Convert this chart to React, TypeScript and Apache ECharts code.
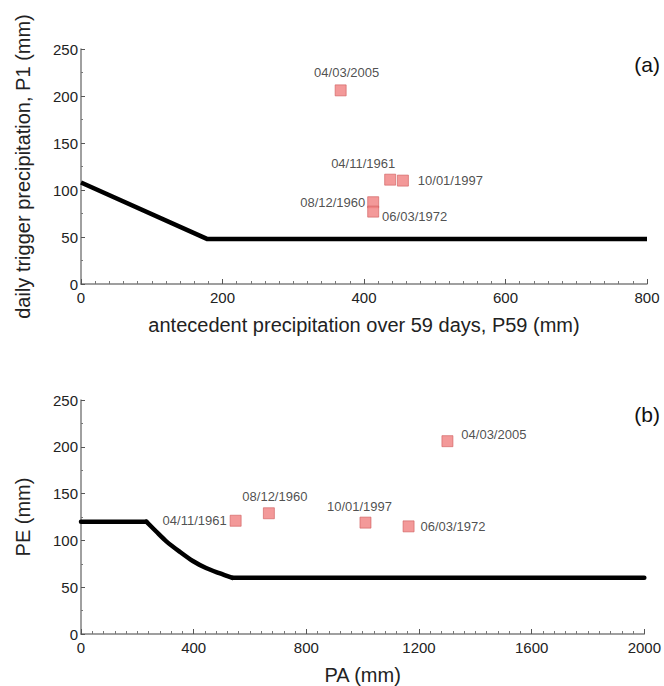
import React, { useEffect, useRef } from "react";
import * as echarts from "echarts";

// Panel (a)
const thresholdA: [number, number][] = [
  [0, 108],
  [178, 48],
  [800, 48],
];
const eventLabelsA = ["04/03/2005", "04/11/1961", "10/01/1997", "08/12/1960", "06/03/1972"];
const eventP59 = [367, 437, 455, 413, 413];
const eventP1 = [206, 111, 110, 87, 77];

// Panel (b)
const thresholdB: [number, number][] = [
  [0, 120],
  [232, 120],
  [267, 109.5],
  [303, 99],
  [350, 88],
  [397, 78],
  [444, 70.5],
  [491, 65],
  [538, 60],
  [2000, 60],
];
const eventLabelsB = ["04/11/1961", "08/12/1960", "10/01/1997", "06/03/1972", "04/03/2005"];
const eventPA = [549, 667, 1010, 1163, 1301];
const eventPE = [121, 129, 119, 115, 206];

const panelTags = ["(a)", "(b)"];

const FONT = "'Liberation Sans', Arial, sans-serif";

export default function App() {
  const ref = useRef<HTMLDivElement>(null);

  useEffect(() => {
    if (!ref.current) return;
    const chart = echarts.init(ref.current, null, { renderer: "svg" });

    const labelPosA: any[] = [
      { position: "top", distance: 5, offset: [6, 0] },
      { position: "top", distance: 4, offset: [-27, 0] },
      { position: "right", distance: 9, offset: [0, 0] },
      { position: "left", distance: 2, offset: [0, 0] },
      { position: "right", distance: 3, offset: [0, 5] },
    ];
    const labelPosB: any[] = [
      { position: "left", distance: 3, offset: [0, 0] },
      { position: "top", distance: 4, offset: [6, 0] },
      { position: "top", distance: 4, offset: [-6, 0] },
      { position: "right", distance: 6, offset: [0, 0] },
      { position: "right", distance: 8, offset: [0, -7] },
    ];

    const axisLine = { show: true, lineStyle: { color: "#808080", width: 1.5 } };
    const axisLabel = { color: "#222", fontSize: 15, fontFamily: FONT };
    const nameStyle = { color: "#222", fontSize: 20, fontFamily: FONT };

    const mkX = (gridIndex: number, max: number, interval: number, name: string, gap: number) => ({
      type: "value",
      gridIndex,
      min: 0,
      max,
      interval,
      name,
      nameLocation: "middle",
      nameGap: gap,
      nameTextStyle: nameStyle,
      axisLine,
      axisTick: { show: true, inside: true, length: 5, lineStyle: { color: "#555", width: 1 } },
      minorTick: { show: true, splitNumber: 10, length: 3, lineStyle: { color: "#777", width: 1 } },
      axisLabel: { ...axisLabel, margin: 6, formatter: (v: number) => String(v) },
      splitLine: { show: false },
    });
    const mkY = (gridIndex: number, name: string, gap: number) => ({
      type: "value",
      gridIndex,
      min: 0,
      max: 250,
      interval: 50,
      name,
      nameLocation: "middle",
      nameGap: gap,
      nameTextStyle: nameStyle,
      axisLine,
      axisTick: { show: true, inside: true, length: 4, lineStyle: { color: "#555", width: 1 } },
      minorTick: { show: true, splitNumber: 2, length: 2, lineStyle: { color: "#777", width: 1 } },
      axisLabel: { ...axisLabel, margin: 3, formatter: (v: number) => String(v) },
      splitLine: { show: false },
    });

    const markerStyle = { color: "#f08080", borderColor: "#cf5f5f", borderWidth: 0.8 };
    const labelText = { fontSize: 13, color: "#222", fontFamily: FONT };
    const tagY = [64, 414];

    const thick = (data: [number, number][], smooth: number | boolean = false) => ({
      type: "line",
      xAxisIndex: 1,
      yAxisIndex: 1,
      data,
      smooth,
      showSymbol: false,
      symbol: "none",
      lineStyle: { color: "#000", width: 4.5, join: "round", cap: "round" },
      silent: true,
    });

    chart.setOption({
      animation: false,
      backgroundColor: "#fff",
      graphic: panelTags.map((t, i) => ({
        type: "text",
        x: 660,
        y: tagY[i],
        style: {
          text: t,
          font: `21px ${FONT}`,
          fill: "#111",
          textAlign: "right",
          textVerticalAlign: "middle",
        },
      })),
      grid: [
        { left: 81, right: 17, top: 49, height: 235 },
        { left: 81, right: 17, top: 400, height: 234 },
      ],
      xAxis: [
        mkX(0, 800, 200, "antecedent precipitation over 59 days, P59 (mm)", 31),
        mkX(1, 2000, 400, "PA (mm)", 31),
      ],
      yAxis: [
        mkY(0, "daily trigger precipitation, P1 (mm)", 48),
        mkY(1, "PE (mm)", 48),
      ],
      series: [
        {
          type: "line",
          xAxisIndex: 0,
          yAxisIndex: 0,
          data: thresholdA,
          showSymbol: false,
          symbol: "none",
          lineStyle: { color: "#000", width: 4.5, join: "round" },
          silent: true,
        },
        {
          type: "scatter",
          xAxisIndex: 0,
          yAxisIndex: 0,
          symbol: "rect",
          symbolSize: 11,
          itemStyle: markerStyle,
          data: eventP59.map((x, i) => ({
            value: [x, eventP1[i]],
            label: { show: true, formatter: eventLabelsA[i], ...labelText, ...labelPosA[i] },
          })),
        },
        thick(thresholdB.slice(0, 2)),
        thick(thresholdB.slice(1, thresholdB.length - 1), 0.3),
        thick(thresholdB.slice(thresholdB.length - 2)),
        {
          type: "scatter",
          xAxisIndex: 1,
          yAxisIndex: 1,
          symbol: "rect",
          symbolSize: 11,
          itemStyle: markerStyle,
          data: eventPA.map((x, i) => ({
            value: [x, eventPE[i]],
            label: { show: true, formatter: eventLabelsB[i], ...labelText, ...labelPosB[i] },
          })),
        },
      ],
    });

    return () => chart.dispose();
  }, []);

  return (
    <div
      ref={ref}
      style={{ position: "fixed", left: 0, top: 0, width: 664, height: 686, background: "#fff" }}
    />
  );
}
